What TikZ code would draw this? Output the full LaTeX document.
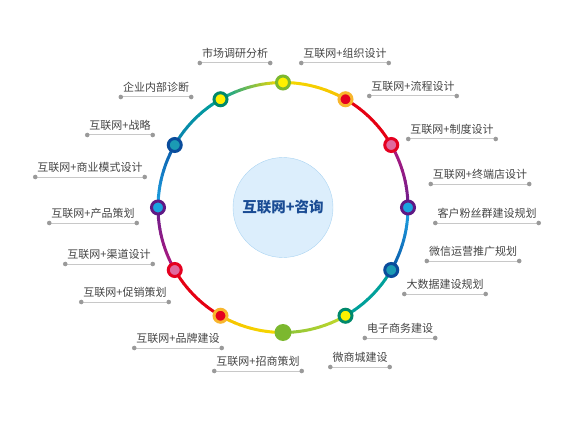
\documentclass[tikz,border=0pt]{standalone}
\usepackage{fontspec}
\setmainfont{Noto Sans CJK SC}
\usepackage{xcolor}
\usetikzlibrary{positioning}
% ring colours
\definecolor{rYel}{HTML}{FFF100}
\definecolor{rGrn}{HTML}{7CB82F}
\definecolor{rOrg}{HTML}{F8B62D}
\definecolor{rRed}{HTML}{E50020}
\definecolor{rPnk}{HTML}{E06A9F}
\definecolor{rPur}{HTML}{5F1985}
\definecolor{rLbl}{HTML}{1AA3E0}
\definecolor{rDbl}{HTML}{0A4C9C}
\definecolor{rTea}{HTML}{1B9BB4}
\definecolor{rDgr}{HTML}{00896B}
% arc colours
\definecolor{sYel}{HTML}{F5DA00}
\definecolor{sOrg}{HTML}{F6C200}
\definecolor{sRed}{HTML}{E50012}
\definecolor{sMag}{HTML}{B0197E}
\definecolor{sPur}{HTML}{6E1D8C}
\definecolor{sLbl}{HTML}{1EA3E3}
\definecolor{sDbl}{HTML}{0B5BAA}
\definecolor{sTea}{HTML}{00A09A}
\definecolor{sYgr}{HTML}{C3D82A}
\definecolor{sGrn}{HTML}{8DC53A}
\definecolor{sBte}{HTML}{0A82B0}
% misc
\definecolor{hubFill}{HTML}{DCEEFC}
\definecolor{hubLine}{HTML}{AAD4F2}
\definecolor{hubText}{HTML}{1A4C94}
\definecolor{lblText}{HTML}{444444}
\definecolor{lineGray}{HTML}{C8C8C8}
\definecolor{dotGray}{HTML}{9A9A9A}
\tikzset{
  hubnode/.style={circle, draw=hubLine, fill=hubFill, minimum size=100pt,
    inner sep=0pt, text=hubText, font=\bfseries\fontsize{14.5}{16}\selectfont},
  ring/.style 2 args={circle, draw=#1, fill=#2, line width=3pt,
    minimum size=13pt, inner sep=0pt},
  ballnode/.style={circle, fill=rGrn, minimum size=17pt, inner sep=0pt},
  arcline/.style={line width=3pt},
  lbl/.style={font=\fontsize{11}{13}\selectfont, text=lblText,
    inner xsep=2pt, inner ysep=0pt, text height=8.5pt, text depth=2pt},
  uline/.style={draw=lineGray, line width=1pt},
  udot/.style={fill=dotGray}
}
\begin{document}
\begin{tikzpicture}[x=1pt, y=1pt]
  \useasboundingbox (0,0) rectangle (576,432);

  % centre
  \node[hubnode] (hub) at (283,224.5) {互联网+咨询};

  % ---------- coloured ring ----------
  \foreach \a/\ca/\cb in {90/sYel/sOrg, 60/sRed/sRed, 30/sMag/sPur,
      0/sLbl/sDbl, -30/sTea/sTea, -60/sYgr/sGrn, -90/sYel/sOrg,
      -120/sRed/sRed, -150/sMag/sPur, -180/sLbl/sDbl, -210/sBte/sTea,
      -240/sTea/sYel}{
    \foreach \k in {0,...,11}{
      \pgfmathtruncatemacro\pc{100-100*\k/11}
      \pgfmathsetmacro\b{\a-2.5*\k}
      \draw[arcline, draw=\ca!\pc!\cb] (hub.center) ++(\b:125pt)
        arc[start angle=\b, delta angle=-2.7, radius=125pt];
    }
  }

  % ---------- ring nodes ----------
  \foreach \a/\rc/\fc [count=\i] in {90/rGrn/rYel, 60/rOrg/rRed,
      30/rRed/rPnk, 0/rPur/rLbl, -30/rDbl/rTea, -60/rDgr/rYel,
      -120/rOrg/rRed, -150/rRed/rPnk, 180/rPur/rLbl, 150/rDbl/rTea,
      120/rDgr/rYel}
    \path (hub.center) ++(\a:125pt) node[ring={\rc}{\fc}] (n\i) {};
  \path (hub.center) ++(-90:125pt) node[ballnode] (n0) {};

  % ---------- labels ----------
  \foreach \x/\y/\t [count=\i] in {235/378/市场调研分析,
      345/378/互联网+组织设计, 413/345/互联网+流程设计,
      452/302/互联网+制度设计, 480/257/互联网+终端店设计,
      487/218/客户粉丝群建设规划, 473/180/微信运营推广规划,
      445/147/大数据建设规划, 400/103/电子商务建设,
      360/74/微商城建设, 258/70/互联网+招商策划,
      178/93/互联网+品牌建设, 125/139/互联网+促销策划,
      109/177/互联网+渠道设计, 93/218/互联网+产品策划,
      90/264/互联网+商业模式设计, 120/306/互联网+战略,
      156/344/企业内部诊断}{
    \node[lbl] (l\i) at (\x,\y) {\t};
    \draw[uline] ([yshift=-9pt]l\i.west) -- ([yshift=-9pt]l\i.east);
    \fill[udot] ([yshift=-9pt]l\i.west) circle (2.3pt);
    \fill[udot] ([yshift=-9pt]l\i.east) circle (2.3pt);
  }

\end{tikzpicture}
\end{document}
